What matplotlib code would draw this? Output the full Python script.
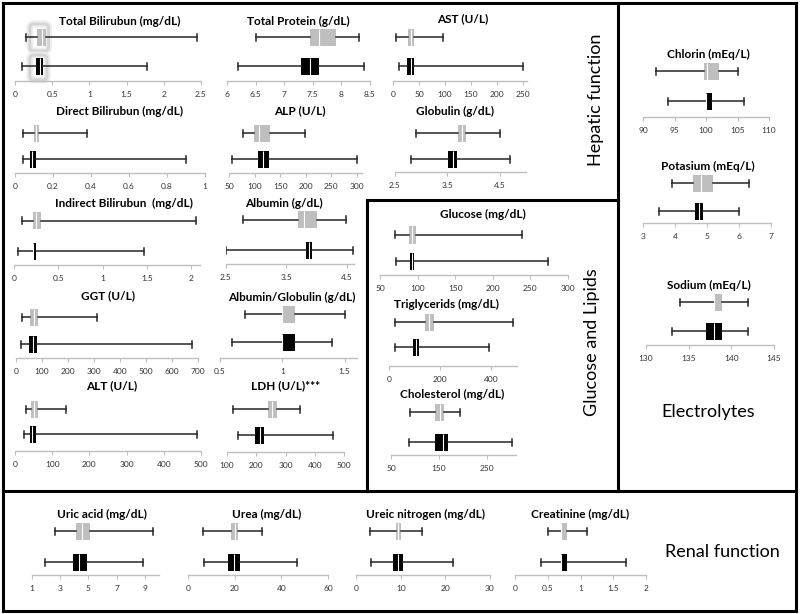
import matplotlib
matplotlib.use('Agg')
import matplotlib.pyplot as plt
from matplotlib.lines import Line2D
from matplotlib.patches import FancyBboxPatch

plt.rcParams['font.family'] = ['Lato', 'DejaVu Sans']

W, H = 800, 614

titles = [
    'Total Bilirubun (mg/dL)', 'Total Protein (g/dL)', 'AST (U/L)',
    'Direct Bilirubun (mg/dL)', 'ALP (U/L)', 'Globulin (g/dL)',
    'Indirect Bilirubun  (mg/dL)', 'Albumin (g/dL)',
    'GGT (U/L)', 'Albumin/Globulin (g/dL)',
    'ALT (U/L)', 'LDH (U/L)***',
    'Glucose (mg/dL)', 'Triglycerids (mg/dL)', 'Cholesterol (mg/dL)',
    'Chlorin (mEq/L)', 'Potasium (mEq/L)', 'Sodium (mEq/L)',
    'Uric acid (mg/dL)', 'Urea (mg/dL)', 'Ureic nitrogen (mg/dL)', 'Creatinine (mg/dL)',
]

# whisker low, Q1, median, Q3, whisker high
grey_stats = [
    (0.15, 0.30, 0.36, 0.42, 2.45), (6.5, 7.45, 7.6, 7.9, 8.3), (6, 28, 34, 41, 96),
    (0.04, 0.10, 0.11, 0.125, 0.38), (77, 99, 109, 130, 198), (2.9, 3.71, 3.77, 3.85, 4.5),
    (0.09, 0.21, 0.25, 0.30, 2.06), (2.78, 3.7, 3.8, 4.0, 4.48),
    (23, 55, 70, 85, 313), (0.7, 1.0, 1.0, 1.1, 1.5),
    (29, 42, 51, 61, 136), (119, 240, 254, 271, 349),
    (70, 88, 92, 98, 239), (22, 141, 157, 174, 483), (89, 142, 151, 160, 194),
    (92, 99.7, 100.1, 102, 105), (3.9, 4.55, 4.8, 5.2, 6.3), (134, 138, 138, 138.9, 142),
    (2.65, 4.15, 4.55, 5.1, 9.6), (6.5, 18.6, 20, 21.4, 31.5), (3.2, 8.9, 9.4, 10.0, 14.7),
    (0.5, 0.70, 0.70, 0.79, 1.1),
]
black_stats = [
    (0.10, 0.28, 0.33, 0.37, 1.77), (6.2, 7.3, 7.45, 7.6, 8.4), (12, 27, 35, 41, 250),
    (0.04, 0.08, 0.09, 0.11, 0.90), (56, 106, 116, 129, 300), (2.8, 3.52, 3.61, 3.69, 4.7),
    (0.05, 0.21, 0.22, 0.25, 1.47), (2.5, 3.82, 3.87, 3.92, 4.6),
    (19, 50, 65, 82, 678), (0.6, 1.0, 1.0, 1.1, 1.4),
    (25, 40, 47, 56, 488), (136, 197, 213, 228, 463),
    (71, 90, 92, 95, 274), (22, 92, 104, 116, 391), (88, 142, 158, 168, 302),
    (94, 100, 100, 101, 106), (3.5, 4.62, 4.76, 4.88, 6.0), (133, 137, 138, 138.9, 142),
    (1.9, 3.9, 4.3, 4.9, 8.9), (6.7, 17.3, 19.7, 22.4, 46.5), (3.3, 8.3, 9.4, 10.5, 21.8),
    (0.4, 0.70, 0.70, 0.79, 1.7),
]
axis_limits = [
    (0, 2.5), (6, 8.5), (0, 258),
    (0, 1), (50, 310), (2.5, 5.0),
    (0, 2.1), (2.5, 4.62),
    (0, 700), (0.5, 1.6),
    (0, 500), (100, 500),
    (50, 300), (0, 500), (50, 310),
    (90, 110), (3, 7), (130, 145),
    (1, 10), (0, 60), (0, 30), (0, 2),
]
axis_ticks = [
    [0, 0.5, 1, 1.5, 2, 2.5], [6, 6.5, 7, 7.5, 8, 8.5], [0, 50, 100, 150, 200, 250],
    [0, 0.2, 0.4, 0.6, 0.8, 1], [50, 100, 150, 200, 250, 300], [2.5, 3.5, 4.5],
    [0, 0.5, 1, 1.5, 2], [2.5, 3.5, 4.5],
    [0, 100, 200, 300, 400, 500, 600, 700], [0.5, 1, 1.5],
    [0, 100, 200, 300, 400, 500], [100, 200, 300, 400, 500],
    [50, 100, 150, 200, 250, 300], [0, 200, 400], [50, 150, 250],
    [90, 95, 100, 105, 110], [3, 4, 5, 6, 7], [130, 135, 140, 145],
    [1, 3, 5, 7, 9], [0, 20, 40, 60], [0, 10, 20, 30], [0, 0.5, 1, 1.5, 2],
]

# pixel layout: axis x0, x1, title x, title y, grey row y, black row y, axis y
layout = [
    (15, 201, 120, 21, 37, 66, 81), (227, 370, 298, 21, 37, 66, 81), (393, 527, 463, 19, 37, 66, 81),
    (15, 205, 119, 111, 133, 159, 173), (229, 362, 300, 111, 133, 159, 173), (395, 526, 455, 111, 133, 159, 172),
    (14, 200, 124, 203, 221, 251, 265), (226, 354, 284, 203, 220, 250, 264),
    (16, 198, 108, 296, 317, 344, 358), (220, 357, 292, 297, 314, 342, 358),
    (15, 201, 112, 386, 409, 434, 451), (227, 344, 286, 386, 409, 435, 452),
    (380, 568, 483, 214, 235, 261, 275), (389, 517, 446, 304, 322, 347, 366), (391, 516, 452, 394, 412, 442, 455),
    (643, 769, 708, 54, 71, 101, 117), (643, 771, 708, 166, 183, 211, 223), (646, 774, 709, 285, 302, 331, 345),
    (32, 159, 102, 514, 531, 562, 575), (188, 328, 267, 514, 531, 562, 575),
    (356, 490, 426, 514, 531, 562, 575), (515, 646, 580, 514, 531, 562, 575),
]


def fx(x):
    return x / W


def fy(y):
    return 1 - y / H


def draw_panel(fig, i):
    x0, x1, tx, ty, gy, by, ay = layout[i]
    top = gy - 14
    ax = fig.add_axes([fx(x0), fy(ay), (x1 - x0) / W, (ay - top) / H])
    ax.patch.set_alpha(0)
    rows = [(grey_stats[i], gy, '#bfbfbf'), (black_stats[i], by, 'black')]
    for s, pos, col in rows:
        st = dict(whislo=s[0], q1=s[1], med=s[2], q3=s[3], whishi=s[4], fliers=[])
        ax.bxp([st], positions=[pos], widths=17, capwidths=7, orientation='horizontal',
               patch_artist=True, showfliers=False, manage_ticks=False,
               boxprops=dict(facecolor=col, edgecolor='none'),
               medianprops=dict(color='white', lw=0.8),
               whiskerprops=dict(color='#262626', lw=1.1),
               capprops=dict(color='#262626', lw=1.1))
    ax.set_xlim(*axis_limits[i])
    ax.set_ylim(ay, top)
    ax.set_yticks([])
    ticks = axis_ticks[i]
    ax.set_xticks(ticks, labels=[f'{t:g}' for t in ticks])
    for side in ['top', 'left', 'right']:
        ax.spines[side].set_visible(False)
    ax.spines['bottom'].set_color('#bfbfbf')
    ax.spines['bottom'].set_linewidth(1)
    ax.tick_params(axis='x', direction='out', length=3, width=0.8, color='#bfbfbf',
                   labelsize=6, labelcolor='#333333', pad=4)
    fig.text(fx(tx), fy(ty), titles[i], ha='center', va='center',
             fontsize=8.5, fontweight='bold')
    return ax


def main():
    fig = plt.figure(figsize=(W / 100, H / 100), dpi=100)
    axes = [draw_panel(fig, i) for i in range(len(titles))]

    # soft selection glow around the Total Bilirubin boxes
    ax = axes[0]
    for x_lo, x_hi, y_lo, y_hi in [(0.2, 0.45, 24, 51), (0.2, 0.43, 55, 80)]:
        for ec, lw in [('#ececec', 5), ('#d4d4d4', 2)]:
            ax.add_patch(FancyBboxPatch((x_lo, y_lo), x_hi - x_lo, y_hi - y_lo,
                                        boxstyle='round,pad=0,rounding_size=0.06',
                                        mutation_aspect=60, facecolor='none',
                                        edgecolor=ec, lw=lw, zorder=0, clip_on=False))

    # panel borders
    lines = [
        ([3, 796], [3, 3]), ([3, 796], [611, 611]), ([3, 3], [3, 611]), ([796, 796], [3, 611]),
        ([618, 618], [3, 491]), ([3, 796], [491, 491]),
        ([367, 367], [200, 491]), ([367, 618], [200, 200]),
    ]
    for xs, ys in lines:
        fig.add_artist(Line2D([fx(x) for x in xs], [fy(y) for y in ys],
                              transform=fig.transFigure, color='black', lw=2.2))

    fig.text(fx(596), fy(100), 'Hepatic function', rotation=90, ha='center', va='center', fontsize=13)
    fig.text(fx(592), fy(342), 'Glucose and Lipids', rotation=90, ha='center', va='center', fontsize=13)
    fig.text(fx(708), fy(412), 'Electrolytes', ha='center', va='center', fontsize=13)
    fig.text(fx(722), fy(552), 'Renal function', ha='center', va='center', fontsize=13)

    fig.savefig('out.png', dpi=100)


if __name__ == "__main__":
    main()
